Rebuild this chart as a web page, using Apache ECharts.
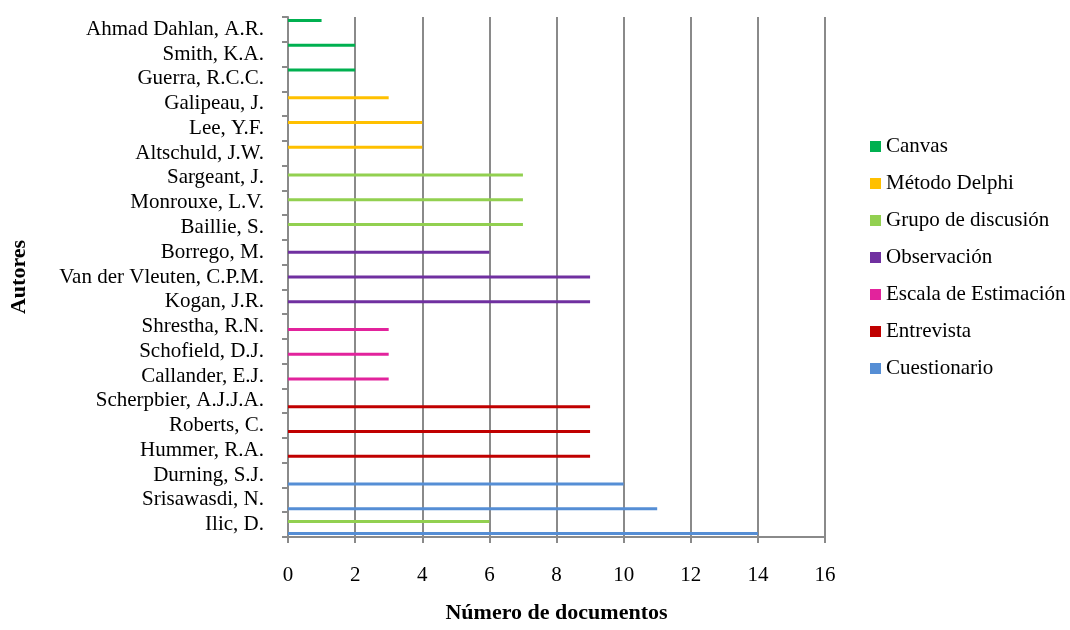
<!DOCTYPE html>
<html>
<head>
<meta charset="utf-8">
<script src="https://cdn.jsdelivr.net/npm/echarts@6/dist/echarts.min.js"></script>
<style>
  html, body { margin: 0; padding: 0; background: #fff; }
  #chart { width: 1070px; height: 630px; }
</style>
</head>
<body>
<div id="chart"></div>
<script>
// Authors, listed bottom to top along the category axis
const autores = [
  'Ilic, D.', 'Srisawasdi, N.', 'Durning, S.J.', 'Hummer, R.A.', 'Roberts, C.',
  'Scherpbier, A.J.J.A.', 'Callander, E.J.', 'Schofield, D.J.', 'Shrestha, R.N.',
  'Kogan, J.R.', 'Van der Vleuten, C.P.M.', 'Borrego, M.', 'Baillie, S.',
  'Monrouxe, L.V.', 'Sargeant, J.', 'Altschuld, J.W.', 'Lee, Y.F.', 'Galipeau, J.',
  'Guerra, R.C.C.', 'Smith, K.A.', 'Ahmad Dahlan, A.R.'
];

// Number of documents per author and technique (null = not used)
const canvas        = [null, null, null, null, null, null, null, null, null, null, null, null, null, null, null, null, null, null, 2, 2, 1];
const metodoDelphi  = [null, null, null, null, null, null, null, null, null, null, null, null, null, null, null, 4, 4, 3, null, null, null];
const grupoDiscusion = [6, null, null, null, null, null, null, null, null, null, null, null, 7, 7, 7, null, null, null, null, null, null];
const observacion   = [null, null, null, null, null, null, null, null, null, 9, 9, 6, null, null, null, null, null, null, null, null, null];
const escala        = [null, null, null, null, null, null, 3, 3, 3, null, null, null, null, null, null, null, null, null, null, null, null];
const entrevista    = [null, null, null, 9, 9, 9, null, null, null, null, null, null, null, null, null, null, null, null, null, null, null];
const cuestionario  = [14, 11, 10, null, null, null, null, null, null, null, null, null, null, null, null, null, null, null, null, null, null];

const xTicks = { min: 0, max: 16, interval: 2 };

const serieDefs = [
  { name: 'Canvas', data: canvas, color: '#00B050' },
  { name: 'Método Delphi', data: metodoDelphi, color: '#FFC000' },
  { name: 'Grupo de discusión', data: grupoDiscusion, color: '#92D050' },
  { name: 'Observación', data: observacion, color: '#7030A0' },
  { name: 'Escala de Estimación', data: escala, color: '#E2239C' },
  { name: 'Entrevista', data: entrevista, color: '#C00000' },
  { name: 'Cuestionario', data: cuestionario, color: '#558ED5' }
];

const FONT = "'Liberation Serif', 'Times New Roman', serif";
const GRAY = '#8a8a8a';

const chart = echarts.init(document.getElementById('chart'), null, { renderer: 'canvas' });

chart.setOption({
  animation: false,
  backgroundColor: '#ffffff',
  textStyle: { fontFamily: FONT, color: '#000' },
  grid: { left: 288, right: 245, top: 17, bottom: 93, containLabel: false },
  legend: {
    orient: 'vertical',
    left: 870,
    top: 136,
    padding: 0,
    itemWidth: 11,
    itemHeight: 11,
    itemGap: 16,
    icon: 'rect',
    textStyle: { fontFamily: FONT, fontSize: 21, color: '#000', lineHeight: 21 },
    data: serieDefs.map(s => s.name)
  },
  xAxis: {
    type: 'value',
    min: xTicks.min,
    max: xTicks.max,
    interval: xTicks.interval,
    name: 'Número de documentos',
    nameLocation: 'middle',
    nameGap: 65,
    nameTextStyle: { fontFamily: FONT, fontSize: 22, fontWeight: 'bold', color: '#000' },
    axisLine: { show: true, lineStyle: { color: GRAY, width: 2 } },
    axisTick: { show: true, length: 6, lineStyle: { color: GRAY, width: 2 } },
    axisLabel: { fontFamily: FONT, fontSize: 21, color: '#000', margin: 28 },
    splitLine: { show: true, lineStyle: { color: GRAY, width: 2 } }
  },
  yAxis: {
    type: 'category',
    data: autores,
    name: 'Autores',
    nameLocation: 'middle',
    nameGap: 258,
    nameRotate: 90,
    nameTextStyle: { fontFamily: FONT, fontSize: 22, fontWeight: 'bold', color: '#000' },
    axisLine: { show: true, lineStyle: { color: GRAY, width: 2 } },
    axisTick: { show: true, length: 6, lineStyle: { color: GRAY, width: 2 } },
    axisLabel: { interval: 0, fontFamily: FONT, fontSize: 21, color: '#000', margin: 24 },
    splitLine: { show: false }
  },
  series: serieDefs.map(s => ({
    name: s.name,
    type: 'bar',
    data: s.data,
    barWidth: 3,
    barGap: '0%',
    itemStyle: { color: s.color },
    emphasis: { disabled: true }
  }))
});
</script>
</body>
</html>
